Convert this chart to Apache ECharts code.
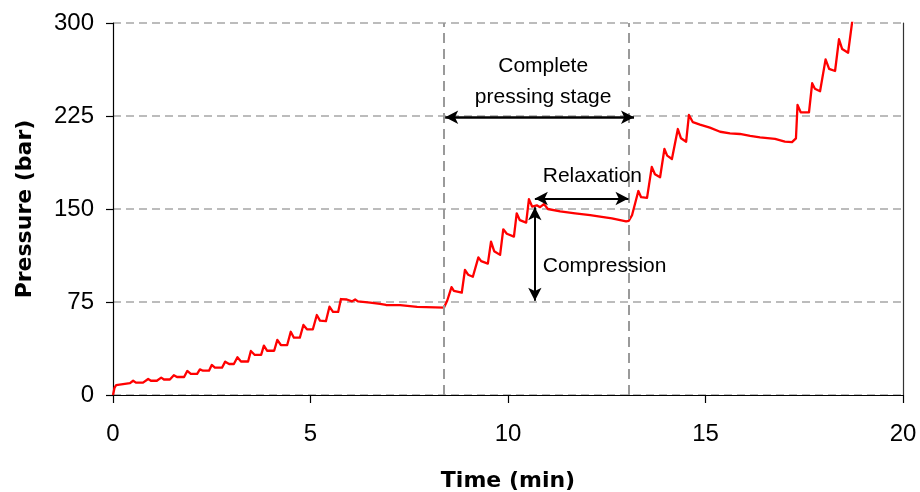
<!DOCTYPE html>
<html>
<head>
<meta charset="utf-8">
<script src="https://cdn.jsdelivr.net/npm/echarts@6/dist/echarts.min.js"></script>
<style>
  html, body { margin: 0; padding: 0; background: #fff; }
  #chart { width: 920px; height: 492px; }
</style>
</head>
<body>
<div id="chart"></div>
<script>
// Pressure trace of the press cycle: [time (min), pressure (bar)]
const pressureTrace = [
  [0, 0], [0.04, 6], [0.08, 8], [0.13, 9.5], [0.43, 9.5], [0.51, 11.5], [0.58, 10], [0.76, 10],
  [0.89, 12.9], [0.96, 11.5], [1.11, 11.5], [1.22, 14], [1.29, 12.5], [1.44, 12.5],
  [1.54, 16], [1.62, 14.5], [1.80, 14.5], [1.88, 19.4], [1.97, 17], [2.13, 17],
  [2.20, 20.7], [2.28, 19.6], [2.43, 19.6], [2.50, 24.2], [2.58, 22], [2.76, 22],
  [2.84, 26.9], [2.94, 25], [3.06, 25], [3.15, 30.4], [3.24, 27], [3.42, 27],
  [3.49, 35.5], [3.59, 32.3], [3.75, 32.3], [3.82, 39.8], [3.90, 35.7], [4.08, 35.7],
  [4.16, 44.4], [4.25, 40.3], [4.41, 40.3], [4.50, 51], [4.58, 46.2], [4.73, 46.2],
  [4.82, 56.5], [4.91, 53], [5.06, 53], [5.16, 64.5], [5.24, 60], [5.39, 59.5],
  [5.48, 71.2], [5.57, 67], [5.70, 67], [5.77, 77.4], [5.92, 77], [6.05, 75.5],
  [6.13, 77], [6.20, 75.5], [6.51, 74.5], [6.76, 73.5], [6.91, 72.6], [7.27, 72.5],
  [7.70, 71], [8.38, 70.5],
  [8.46, 76], [8.57, 87], [8.63, 84], [8.83, 82.5], [8.91, 100.8], [8.99, 97], [9.11, 95.4],
  [9.25, 111], [9.32, 108], [9.49, 106], [9.57, 123.6], [9.65, 116], [9.80, 113],
  [9.88, 133.6], [9.97, 130], [10.15, 127.7], [10.22, 146.5], [10.30, 141], [10.46, 139],
  [10.53, 158], [10.61, 152], [10.73, 153], [10.81, 151.5], [10.91, 154], [11.01, 150],
  [11.32, 148], [11.70, 146.5], [12.08, 145], [12.33, 143.8], [12.63, 142.5], [12.84, 141],
  [12.99, 140], [13.06, 140.5],
  [13.14, 145], [13.30, 164.5], [13.37, 159.5], [13.52, 159], [13.64, 184], [13.72, 178],
  [13.85, 175.6], [13.96, 198.4], [14.03, 193], [14.15, 190.3], [14.30, 214.5], [14.38, 207],
  [14.51, 204.3], [14.58, 225.8], [14.68, 220], [14.86, 218], [15.11, 215.6], [15.37, 212.3],
  [15.62, 211], [15.87, 210.5], [16.13, 209], [16.38, 207.8], [16.76, 206.5], [17.01, 204.3],
  [17.19, 204], [17.29, 207],
  [17.33, 234], [17.41, 228], [17.62, 228], [17.70, 251.4], [17.77, 247], [17.90, 245],
  [18.04, 270.7], [18.13, 263], [18.28, 261.3], [18.38, 286.9], [18.46, 279], [18.61, 276],
  [18.73, 305]
];

// Axis ranges and ticks
const timeTicks = [0, 5, 10, 15, 20];
const pressureTicks = [0, 75, 150, 225, 300];

// Start and end of the complete pressing stage (min)
const stageBounds = [8.38, 13.06];

// Annotation arrows: [[x1, y1], [x2, y2]] in (min, bar)
const stageArrow = [[8.41, 224], [13.19, 224]];
const relaxationArrow = [[10.68, 158.5], [13.05, 158.5]];
const compressionArrow = [[10.68, 151.5], [10.68, 76]];

// Annotation texts and their anchors (min, bar)
const stageLabel = { text: 'Complete\npressing stage', at: [10.89, 253] };
const relaxationLabel = { text: 'Relaxation', at: [10.88, 176.5] };
const compressionLabel = { text: 'Compression', at: [10.88, 104] };

const FONT = '"Liberation Sans", Arial, sans-serif';
const TITLE_FONT = '"DejaVu Sans", "Liberation Sans", sans-serif';

const chart = echarts.init(document.getElementById('chart'), null, { renderer: 'canvas' });

const arrowLine = (pts, width) => ([
  { coord: pts[0], lineStyle: { color: '#000', width: width, type: 'solid' } },
  { coord: pts[1] }
]);

chart.setOption({
  animation: false,
  backgroundColor: '#fff',
  grid: { left: 113, right: 17, top: 23, bottom: 97, containLabel: false, outerBoundsMode: 'none' },
  xAxis: {
    type: 'value',
    min: timeTicks[0],
    max: timeTicks[timeTicks.length - 1],
    interval: 5,
    name: 'Time (min)',
    nameLocation: 'middle',
    nameGap: 75,
    nameTextStyle: { fontFamily: TITLE_FONT, fontWeight: 'bold', fontSize: 22, color: '#000' },
    axisLine: { lineStyle: { color: '#000', width: 1.2 } },
    axisTick: { show: true, length: 8, lineStyle: { color: '#000', width: 1.2 } },
    axisLabel: { fontFamily: FONT, fontSize: 24, color: '#000', margin: 27 },
    splitLine: { show: false }
  },
  yAxis: [{
    type: 'value',
    min: pressureTicks[0],
    max: pressureTicks[pressureTicks.length - 1],
    interval: 75,
    name: 'Pressure (bar)',
    nameLocation: 'middle',
    nameGap: 77,
    nameRotate: 90,
    nameTextStyle: { fontFamily: TITLE_FONT, fontWeight: 'bold', fontSize: 22, color: '#000' },
    axisLine: { show: true, lineStyle: { color: '#000', width: 1.2 } },
    axisTick: { show: true, length: 7, lineStyle: { color: '#000', width: 1.2 } },
    axisLabel: { fontFamily: FONT, fontSize: 24, color: '#000', margin: 19 },
    splitLine: { show: true, lineStyle: { color: '#a6a6a6', width: 1.5, type: [8, 5] } }
  }, {
    // right-hand frame edge
    type: 'value',
    position: 'right',
    min: pressureTicks[0],
    max: pressureTicks[pressureTicks.length - 1],
    interval: 75,
    axisLine: { show: true, lineStyle: { color: '#333', width: 1.2 } },
    axisTick: { show: false },
    axisLabel: { show: false },
    splitLine: { show: false }
  }],
  series: [
    {
      name: 'Pressure',
      type: 'line',
      data: pressureTrace,
      showSymbol: false,
      clip: true,
      lineStyle: { color: '#ff0000', width: 2.3, join: 'round' },
      z: 3
    },
    {
      // stage boundaries
      name: 'Stage',
      type: 'line',
      data: [],
      silent: true,
      markLine: {
        silent: true,
        symbol: 'none',
        label: { show: false },
        lineStyle: { color: '#9a9a9a', width: 2, type: [10, 6] },
        data: stageBounds.map(v => ({ xAxis: v }))
      },
      z: 2
    },
    {
      // annotation arrows
      name: 'Arrows',
      type: 'line',
      data: [],
      silent: true,
      markLine: {
        silent: true,
        symbol: ['arrow', 'arrow'],
        symbolSize: [10, 13],
        label: { show: false },
        data: [
          arrowLine(stageArrow, 2.5),
          arrowLine(relaxationArrow, 2),
          arrowLine(compressionArrow, 2)
        ]
      },
      z: 4
    }
  ]
});

// Annotation texts placed from data coordinates
function placeLabel(lbl, align) {
  const p = chart.convertToPixel({ gridIndex: 0 }, lbl.at);
  return {
    type: 'text',
    x: p[0],
    y: p[1],
    z: 10,
    style: {
      text: lbl.text,
      fontFamily: FONT,
      fontSize: 21,
      lineHeight: 31,
      fill: '#000',
      align: align,
      verticalAlign: 'middle'
    }
  };
}

chart.setOption({
  graphic: [
    placeLabel(stageLabel, 'center'),
    placeLabel(relaxationLabel, 'left'),
    placeLabel(compressionLabel, 'left')
  ]
});
</script>
</body>
</html>
